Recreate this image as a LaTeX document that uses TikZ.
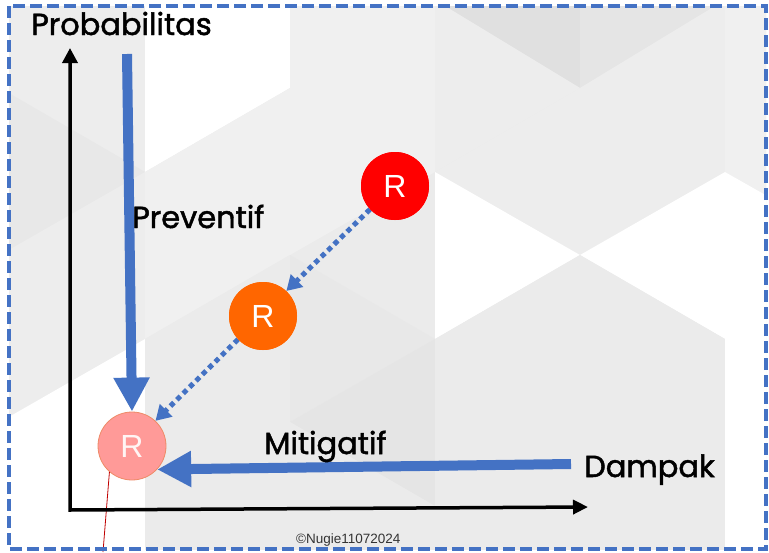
\documentclass[tikz,border=0pt]{standalone}
\usepackage{fontspec}
\setmainfont[Ligatures={NoCommon,NoRequired,NoContextual}]{Poppins}
\newfontfamily\capfont[Ligatures={NoCommon,NoRequired,NoContextual},FakeBold=1.6]{Poppins}
\newfontfamily\rfont{Liberation Sans}
\usetikzlibrary{arrows.meta}

\definecolor{accent}{HTML}{4472C4}
\definecolor{riskred}{HTML}{FF0000}
\definecolor{riskorange}{HTML}{FF6600}
\definecolor{riskpink}{HTML}{FF9A98}
\definecolor{pinkedge}{HTML}{EE8A66}
\definecolor{tailred}{HTML}{C00000}

\tikzset{
  riskdot/.style={circle, minimum size=68pt, inner sep=0pt, text=white,
    font=\rfont\fontsize{32}{32}\selectfont},
  axisline/.style={line width=3.5pt, line join=miter,
    {Triangle[width=15pt,length=15pt]}-{Triangle[width=14pt,length=15pt]}},
  bigarrow/.style={draw=accent, line width=10pt,
    -{Triangle[width=34pt,length=34pt]}},
  dotarrow/.style={draw=accent, line width=5pt, dash pattern=on 5pt off 4pt,
    -{Triangle[width=17pt,length=15pt]}},
  caption/.style={anchor=base west, inner sep=0pt,
    font=\capfont\fontsize{30.5}{30.5}\selectfont},
}

\begin{document}
\begin{tikzpicture}[x=1pt,y=-1pt]
\useasboundingbox (0,0) rectangle (769,552);
\fill[white] (0,0) rectangle (769,552);

% geometric background: triangular lattice of soft greys
\begin{scope}
  \clip (9,6) rectangle (766,549);
  \fill[black!8] (0,0) rectangle (769,552);
  % left column
  \fill[black!7] (0,0) -- (145,0) -- (145,172) -- (0,88) -- cycle;
  \fill[black!9] (0,88) -- (145,172) -- (0,255) -- cycle;
  \fill[black!7] (0,255) -- (145,172) -- (145,339) -- (0,422) -- cycle;
  \fill[white] (0,422) -- (145,339) -- (145,552) -- (0,552) -- cycle;
  % second column
  \fill[white] (145,0) -- (290,0) -- (290,88) -- (145,172) -- cycle;
  \fill[black!6] (145,172) -- (290,88) -- (290,255) -- (145,339) -- cycle;
  \fill[black!8] (145,339) -- (290,255) -- (290,552) -- (145,552) -- cycle;
  % third column
  \fill[black!6] (290,0) -- (435,0) -- (435,172) -- (290,255) -- cycle;
  \fill[black!9] (290,255) -- (435,339) -- (290,422) -- cycle;
  \fill[black!10] (435,339) -- (290,422) -- (435,506) -- cycle;
  \fill[black!8] (290,422) -- (435,506) -- (435,552) -- (290,552) -- cycle;
  % fourth column
  \fill[black!12] (435,0) -- (580,0) -- (580,88) -- cycle;
  \fill[black!7] (435,0) -- (580,88) -- (435,172) -- cycle;
  \fill[black!7] (435,172) -- (580,88) -- (580,255) -- cycle;
  \fill[white] (435,172) -- (580,255) -- (435,339) -- cycle;
  \fill[black!8] (435,339) -- (580,255) -- (580,552) -- (435,552) -- cycle;
  % fifth column
  \fill[black!10] (580,0) -- (725,0) -- (580,88) -- cycle;
  \fill[black!7] (580,88) -- (725,0) -- (725,172) -- (580,255) -- cycle;
  \fill[white] (580,255) -- (725,172) -- (725,339) -- cycle;
  \fill[black!8] (580,255) -- (725,339) -- (725,552) -- (580,552) -- cycle;
  % right edge
  \fill[black!6] (725,0) -- (769,0) -- (769,197) -- (725,172) -- cycle;
  \fill[white] (725,172) -- (769,197) -- (769,552) -- (725,552) -- cycle;
\end{scope}

% risk positions
\node[riskdot, fill=riskred] (high) at (395,186) {R};
\node[riskdot, fill=riskorange] (mid) at (263,316) {R};
\node[riskdot, fill=riskpink, draw=pinkedge, line width=0.8pt,
      text opacity=0.9] (low) at (132,446) {R};

% leader line below the residual risk
\coordinate (tail) at (103,552);
\draw[tailred, line width=0.8pt] (low.-131) -- (tail);

% axes
\coordinate (ytip) at (70,48);
\coordinate (origin) at (70,510);
\coordinate (xtip) at (588,507);
\draw[axisline] (ytip) -- (origin) -- (xtip);

% treatment arrows
\coordinate (prevstart) at (127,54);
\coordinate (mitstart) at (571,464);
\draw[bigarrow] (prevstart) -- (low.north);
\draw[bigarrow] (mitstart) -- (low.-43);
\draw[dotarrow] (high.-137) -- (mid.47);
\draw[dotarrow] (mid.-137) -- (low.47);

% redraw circles above the arrow tips
\node[riskdot, fill=riskred] at (high) {R};
\node[riskdot, fill=riskorange] at (mid) {R};

% labels
\node[caption] (prob) at (31,35) {Probabilitas};
\node[caption] (prev) at (132,228) {Preventif};
\node[caption] (miti) at (264,454) {Mitigatif};
\node[caption] (damp) at (584,477) {Dampak};
\node[anchor=base west, inner sep=0pt, text=black!80,
      font=\rfont\fontsize{13.5}{13.5}\selectfont] (copy) at (296,543) {©Nugie11072024};

% dashed frame
\draw[accent, line width=3.5pt, dash pattern=on 12pt off 5pt] (9,6) rectangle (766,549);
\end{tikzpicture}
\end{document}
